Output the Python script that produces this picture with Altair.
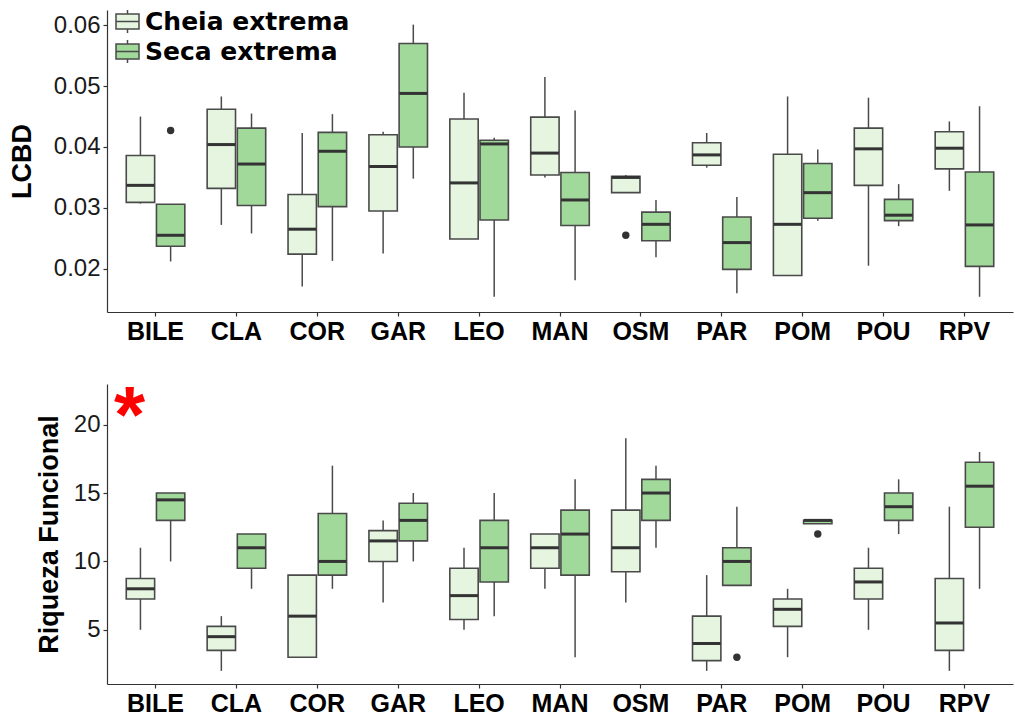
import altair as alt
import pandas as pd

sites = ["BILE", "CLA", "COR", "GAR", "LEO", "MAN", "OSM", "PAR", "POM", "POU", "RPV"]
groups = ["Cheia extrema", "Seca extrema"]
colors = ["#E5F5E0", "#A1D99B"]

# ---- LCBD box statistics ----
lcbd_cheia_lo  = [0.0307, 0.0272, 0.0171, 0.0225, 0.0249, 0.0350, 0.0325, 0.0366, 0.0189, 0.0205, 0.0328]
lcbd_cheia_q1  = [0.0309, 0.0332, 0.0224, 0.0295, 0.0249, 0.0354, 0.0325, 0.0370, 0.0189, 0.0337, 0.0364]
lcbd_cheia_med = [0.0337, 0.0404, 0.0265, 0.0368, 0.0341, 0.0390, 0.0350, 0.0387, 0.0273, 0.0397, 0.0398]
lcbd_cheia_q3  = [0.0386, 0.0462, 0.0322, 0.0420, 0.0446, 0.0449, 0.0352, 0.0407, 0.0388, 0.0431, 0.0425]
lcbd_cheia_hi  = [0.0450, 0.0483, 0.0423, 0.0425, 0.0489, 0.0515, 0.0354, 0.0423, 0.0483, 0.0481, 0.0442]

lcbd_seca_lo  = [0.0212, 0.0258, 0.0213, 0.0348, 0.0154, 0.0181, 0.0219, 0.0160, 0.0279, 0.0270, 0.0154]
lcbd_seca_q1  = [0.0237, 0.0304, 0.0302, 0.0400, 0.0280, 0.0271, 0.0246, 0.0199, 0.0283, 0.0279, 0.0204]
lcbd_seca_med = [0.0255, 0.0372, 0.0393, 0.0488, 0.0405, 0.0313, 0.0273, 0.0243, 0.0325, 0.0288, 0.0272]
lcbd_seca_q3  = [0.0306, 0.0431, 0.0424, 0.0570, 0.0411, 0.0358, 0.0293, 0.0285, 0.0373, 0.0314, 0.0359]
lcbd_seca_hi  = [0.0306, 0.0455, 0.0454, 0.0601, 0.0415, 0.0460, 0.0313, 0.0318, 0.0396, 0.0339, 0.0467]

lcbd_out_site  = ["BILE", "OSM"]
lcbd_out_group = ["Seca extrema", "Cheia extrema"]
lcbd_out_val   = [0.0427, 0.0255]

# ---- Riqueza Funcional box statistics ----
rf_cheia_lo  = [5, 2, 3, 7, 5, 8, 7, 2, 3, 5, 2]
rf_cheia_q1  = [7.25, 3.5, 3, 10, 5.75, 9.5, 9.25, 2.75, 5.25, 7.25, 3.5]
rf_cheia_med = [8, 4.5, 6, 11.5, 7.5, 11, 11, 4, 6.5, 8.5, 5.5]
rf_cheia_q3  = [8.75, 5.25, 9, 12.25, 9.5, 12, 13.75, 6, 7.25, 9.5, 8.75]
rf_cheia_hi  = [11, 6, 9, 13, 11, 12, 19, 9, 8, 11, 14]

rf_seca_lo  = [10, 8, 8, 10, 6, 3, 11, 8.25, 12.75, 12, 8]
rf_seca_q1  = [13, 9.5, 9, 11.5, 8.5, 9, 13, 8.25, 12.75, 13, 12.5]
rf_seca_med = [14.5, 11, 10, 13, 11, 12, 15, 10, 13, 14, 15.5]
rf_seca_q3  = [15, 12, 13.5, 14.25, 13, 13.75, 16, 11, 13, 15, 17.25]
rf_seca_hi  = [15, 12, 17, 15, 15, 16, 17, 14, 13, 16, 18]

rf_out_site  = ["PAR", "POM"]
rf_out_group = ["Seca extrema", "Seca extrema"]
rf_out_val   = [3, 12]

FONT = "Liberation Sans"
DARK = "#333333"
LINE = "#4a4a4a"
NOVIEW = alt.ViewBackground(stroke="transparent", strokeWidth=0)


def stats_frame(c_lo, c_q1, c_med, c_q3, c_hi, s_lo, s_q1, s_med, s_q3, s_hi):
    rows = []
    for i, s in enumerate(sites):
        rows.append(dict(site=s, group=groups[0], lo=c_lo[i], q1=c_q1[i], med=c_med[i], q3=c_q3[i], hi=c_hi[i]))
        rows.append(dict(site=s, group=groups[1], lo=s_lo[i], q1=s_q1[i], med=s_med[i], q3=s_q3[i], hi=s_hi[i]))
    return pd.DataFrame(rows)


lcbd_df = stats_frame(lcbd_cheia_lo, lcbd_cheia_q1, lcbd_cheia_med, lcbd_cheia_q3, lcbd_cheia_hi,
                      lcbd_seca_lo, lcbd_seca_q1, lcbd_seca_med, lcbd_seca_q3, lcbd_seca_hi)
rf_df = stats_frame(rf_cheia_lo, rf_cheia_q1, rf_cheia_med, rf_cheia_q3, rf_cheia_hi,
                    rf_seca_lo, rf_seca_q1, rf_seca_med, rf_seca_q3, rf_seca_hi)
lcbd_out = pd.DataFrame(dict(site=lcbd_out_site, group=lcbd_out_group, val=lcbd_out_val))
rf_out = pd.DataFrame(dict(site=rf_out_site, group=rf_out_group, val=rf_out_val))

x_enc = alt.X("site:N", sort=sites,
              scale=alt.Scale(paddingInner=0, paddingOuter=0.1),
              axis=alt.Axis(title=None, labelFont=FONT, labelFontWeight="bold", labelFontSize=25,
                            labelColor="#000000", labelAngle=0, labelPadding=3,
                            domainColor=DARK, domainWidth=1.2, tickColor=DARK, tickSize=4,
                            tickWidth=1.2, grid=False))
xo_enc = alt.XOffset("group:N", sort=groups,
                     scale=alt.Scale(paddingInner=0.06, paddingOuter=0.37))


def panel(df, out, domain, ticks, fmt, title, height, legend, title_pad):
    yaxis = alt.Axis(values=ticks, format=fmt, labelFont=FONT, labelFontSize=24, labelColor="#1a1a1a",
                     labelPadding=3, domainColor=DARK, domainWidth=1.2, tickColor=DARK, tickSize=4,
                     tickWidth=1.2, grid=False, titleFont=FONT, titleFontSize=27, titleFontWeight="bold",
                     titleColor="#000000", titlePadding=title_pad)
    yscale = alt.Scale(domain=domain, nice=False, zero=False)
    base = alt.Chart(df).encode(x=x_enc, xOffset=xo_enc)
    whisk = base.mark_rule(color=LINE, strokeWidth=1.5).encode(
        y=alt.Y("lo:Q", scale=yscale, axis=yaxis, title=title), y2="hi:Q")
    box = base.mark_bar(stroke=LINE, strokeWidth=1.6, opacity=1).encode(
        y=alt.Y("q1:Q", scale=yscale, title=title), y2="q3:Q",
        fill=alt.Fill("group:N", sort=groups, scale=alt.Scale(domain=groups, range=colors), legend=legend))
    med = base.mark_tick(color=DARK, thickness=3, size=28, opacity=1).encode(
        y=alt.Y("med:Q", scale=yscale, title=title))
    pts = alt.Chart(out).mark_circle(size=55, color=DARK, opacity=1).encode(
        x=x_enc, xOffset=xo_enc, y=alt.Y("val:Q", scale=yscale, title=title))
    return alt.layer(whisk, box, med, pts).properties(width=906, height=height, view=NOVIEW)


legend = alt.Legend(title=None, orient="none", legendX=8, legendY=-1, padding=0,
                    symbolType="M-1,-0.65H1V0.65H-1Z M-1,0H1 M0,-0.65V-1 M0,0.65V1",
                    symbolSize=529, symbolStrokeColor=LINE, symbolStrokeWidth=1.5, symbolOpacity=1,
                    labelFont="DejaVu Sans", labelFontWeight="bold", labelFontSize=25, labelColor="#000000",
                    labelOffset=5, rowPadding=1, labelLimit=400)

top = panel(lcbd_df, lcbd_out, [0.0129, 0.0625], [0.02, 0.03, 0.04, 0.05, 0.06], ".2f",
            "LCBD", 302, legend, 17)
bottom = panel(rf_df, rf_out, [1.04, 22.97], [5, 10, 15, 20], "d",
               "Riqueza Funcional", 300, None, 10)

star_site = ["BILE"]
star_val = [21.5]
star = alt.Chart(pd.DataFrame(dict(site=star_site, v=star_val))).mark_text(
    text="*", color="#FF0000", font=FONT, fontWeight="bold", fontSize=80, baseline="middle", dx=-26, dy=14
).encode(x=x_enc, y=alt.Y("v:Q", scale=alt.Scale(domain=[1.04, 22.97], nice=False, zero=False),
                                   title="Riqueza Funcional"))
bottom = alt.layer(bottom, star).properties(view=NOVIEW)

chart = alt.vconcat(top, bottom, spacing=72, bounds="flush").resolve_scale(
    fill="independent").resolve_legend(fill="independent").properties(
    padding={"left": 8, "top": 9, "right": 2, "bottom": 2}
).configure_view(strokeWidth=0, stroke="transparent").configure(background="white")

chart.save("out.html", embed_options={"renderer": "svg", "actions": False})
